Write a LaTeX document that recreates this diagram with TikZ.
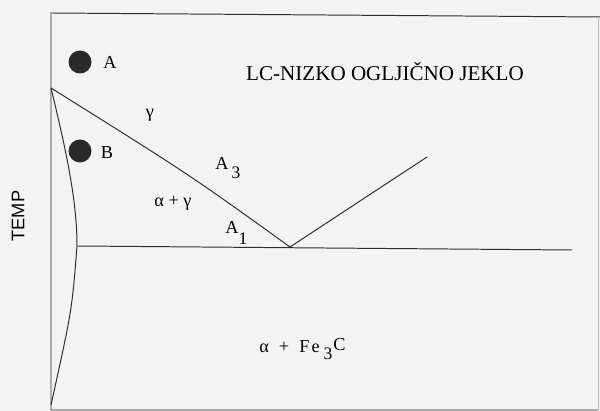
\documentclass[tikz,border=0pt]{standalone}
\usepackage{fontspec}
\setmainfont{Liberation Serif}
\setsansfont{Liberation Sans}
\definecolor{paper}{RGB}{243,243,243}
\definecolor{ink}{RGB}{45,45,45}
\tikzset{
  lbl/.style={inner sep=0pt, font=\fontsize{13}{15}\selectfont},
  sub/.style={inner sep=0pt, font=\fontsize{12.5}{14}\selectfont},
  line/.style={ink, line width=0.7pt}
}
\begin{document}
\begin{tikzpicture}[x=0.025cm, y=-0.025cm]
    \fill[paper] (0,0) rectangle (600,411);
    \useasboundingbox (0,0) rectangle (600,411);
    \coordinate (tl) at (51,13); \coordinate (tr) at (600,17);
    \coordinate (bl) at (51,410); \coordinate (br) at (598,410);
    \coordinate (rt) at (598,17);
    \coordinate (top) at (51,88); \coordinate (eut) at (290,247);
    \coordinate (acm) at (427,157); \coordinate (a1l) at (77,246);
    \coordinate (a1r) at (572,250); \coordinate (bot) at (51,405);
    \coordinate (ptA) at (80,62); \coordinate (ptB) at (80,151);
    \draw[line] (tr) -- (tl) -- (bl) -- (br);
    \draw[line, ink!35] (rt) -- (br);
    \draw[line] (top) .. controls (190,175) .. (eut) -- (acm);
    \draw[line] (a1l) -- (a1r);
    \draw[line] (top) .. controls (66,150) and (77,200) .. (a1l)
      .. controls (72,310) .. (bot);
    \foreach \p in {ptA,ptB} { \fill[ink!90!black] (\p) circle (11.5); }
    \node[lbl] (lA) at (110,62) {A}; \node[lbl] (lB) at (107,153) {B};
    \node[lbl] (gam) at (150,115) {γ};
    \node[lbl] (aga) at (173,203) {α + γ};
    \node[lbl] (tA3) at (222,163) {A}; \node[sub] (s3) at (236,173) {3};
    \node[lbl] (tA1) at (232,227) {A}; \node[sub] (s1) at (243,239) {1};
    \node[lbl, anchor=west] (afe) at (259,347)
      {α\hspace{0.55em}+\hspace{0.55em}F\hspace{0.12em}e};
    \node[sub] (s3b) at (328,354) {3};
    \node[lbl, anchor=west] (tC) at (333,345) {C};
    \node[inner sep=0pt, font=\fontsize{15}{17}\selectfont] (title) at (385,72)
      {LC-NIZKO OGLJIČNO JEKLO};
    \node[inner sep=0pt, rotate=90, font=\sffamily\fontsize{13}{15}\selectfont]
      (temp) at (18,216) {TEMP};
  \end{tikzpicture}
\end{document}
